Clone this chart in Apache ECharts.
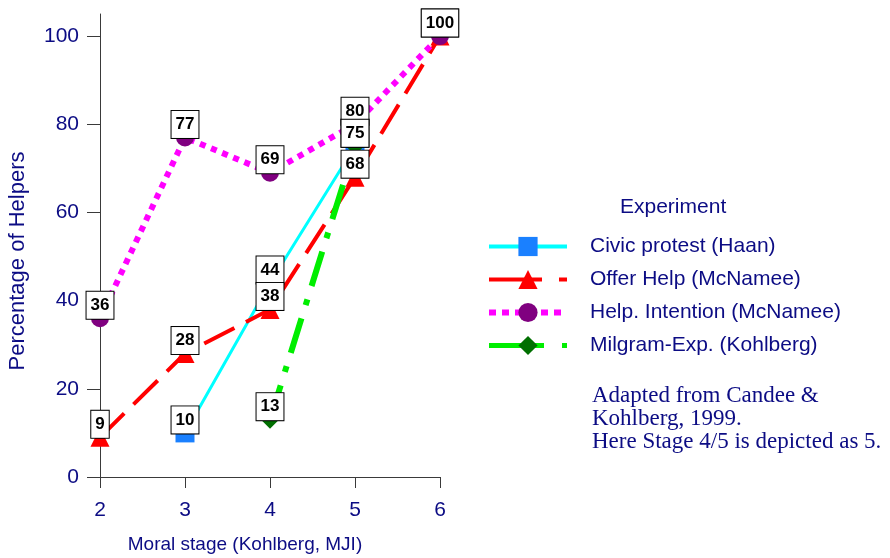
<!DOCTYPE html>
<html><head><meta charset="utf-8">
<script src="https://cdn.jsdelivr.net/npm/echarts@6/dist/echarts.min.js"></script>
<style>html,body{margin:0;padding:0;background:#fff}#c{width:890px;height:558px}</style>
</head><body><div id="c"></div>
<script>
const stages = [2, 3, 4, 5, 6];
const civicProtest = [null, 10, 44, 75, null];
const offerHelp = [9, 28, 38, 68, 100];
const helpIntention = [36, 77, 69, 80, 100];
const milgram = [null, null, 13, 75, null];
const yTicks = [0, 20, 40, 60, 80, 100];
const seriesNames = ['Civic protest (Haan)', 'Offer Help (McNamee)', 'Help. Intention (McNamee)', 'Milgram-Exp. (Kohlberg)'];

const NAVY = '#0c0c84';
function pairs(vals) {
  const out = [];
  stages.forEach((s, i) => { if (vals[i] != null) out.push([s, vals[i]]); });
  return out;
}
const labelCfg = {
  show: true, position: 'inside', offset: [0, -13],
  formatter: p => String(p.value[1]),
  backgroundColor: '#fff', borderColor: '#000', borderWidth: 1,
  padding: [5, 4, 4, 4], color: '#000', fontWeight: 'bold', fontSize: 17,
  fontFamily: 'Arial, Liberation Sans', lineHeight: 18
};
function mk(name, vals, lineStyle, symbol, symbolSize, color) {
  return {
    name, type: 'line', data: pairs(vals), symbol, symbolSize,
    itemStyle: { color }, lineStyle, label: labelCfg,
    emphasis: { disabled: true }, animation: false
  };
}
const chart = echarts.init(document.getElementById('c'));
chart.setOption({
  animation: false,
  grid: { left: 100, right: 450, top: 14, bottom: 81 },
  xAxis: {
    type: 'value', min: 2, max: 6, interval: 1,
    axisLine: { lineStyle: { color: '#3a3a3a', width: 1 } },
    axisTick: { length: 11, inside: false, lineStyle: { color: '#3a3a3a' } },
    axisLabel: { color: NAVY, fontSize: 21, fontFamily: 'Arial, Liberation Sans', margin: 23 },
    splitLine: { show: false }
  },
  yAxis: {
    type: 'value', min: 0, max: 105,
    axisLine: { show: true, lineStyle: { color: '#3a3a3a', width: 1 } },
    axisTick: { show: true, inside: false, length: 13, customValues: yTicks, lineStyle: { color: '#3a3a3a' } },
    axisLabel: { color: NAVY, fontSize: 21, fontFamily: 'Arial, Liberation Sans', margin: 21, customValues: yTicks },
    splitLine: { show: false }
  },
  legend: {
    orient: 'vertical', left: 486, top: 236, padding: 0,
    itemWidth: 78, itemHeight: 24, itemGap: 12,
    data: [
      { name: seriesNames[0], lineStyle: { width: 4, type: 'solid' } },
      { name: seriesNames[1], lineStyle: { width: 4, type: [53, 17] } },
      { name: seriesNames[2], lineStyle: { width: 6, type: [7, 6] } },
      { name: seriesNames[3], lineStyle: { width: 5, type: [55, 18, 5, 18] } }
    ],
    textStyle: { color: NAVY, fontSize: 21, fontFamily: 'Arial, Liberation Sans', padding: [0, 0, 0, 18] }
  },
  graphic: [
    { type: 'text', left: 620, top: 197, style: { text: 'Experiment', fill: NAVY, font: '21px Arial, Liberation Sans' } },
    { type: 'text', left: 592, top: 384, style: { text: 'Adapted from Candee &\nKohlberg, 1999.\nHere Stage 4/5 is depicted as 5.', fill: NAVY, font: '23px "Liberation Serif", "Times New Roman", serif', lineHeight: 23 } },
    { type: 'text', x: 18, y: 261, rotation: Math.PI / 2, style: { text: 'Percentage of Helpers', fill: NAVY, font: '22px Arial, Liberation Sans', align: 'center', verticalAlign: 'middle' } },
    { type: 'text', x: 245, y: 545, style: { text: 'Moral stage (Kohlberg, MJI)', fill: NAVY, font: '19px Arial, Liberation Sans', align: 'center', verticalAlign: 'middle' } }
  ],
  series: [
    mk(seriesNames[0], civicProtest, { color: '#00ffff', width: 3, type: 'solid' }, 'rect', 19, '#1a80ff'),
    mk(seriesNames[1], offerHelp, { color: '#ff0000', width: 4, type: [34, 13] }, 'triangle', 19, '#ff0000'),
    mk(seriesNames[2], helpIntention, { color: '#ff00ff', width: 6, type: [6, 6] }, 'circle', 18, '#800080'),
    mk(seriesNames[3], milgram, { color: '#00ee00', width: 6, type: [36, 14, 6, 14] }, 'diamond', 18, '#006f00')
  ]
});
</script></body></html>
